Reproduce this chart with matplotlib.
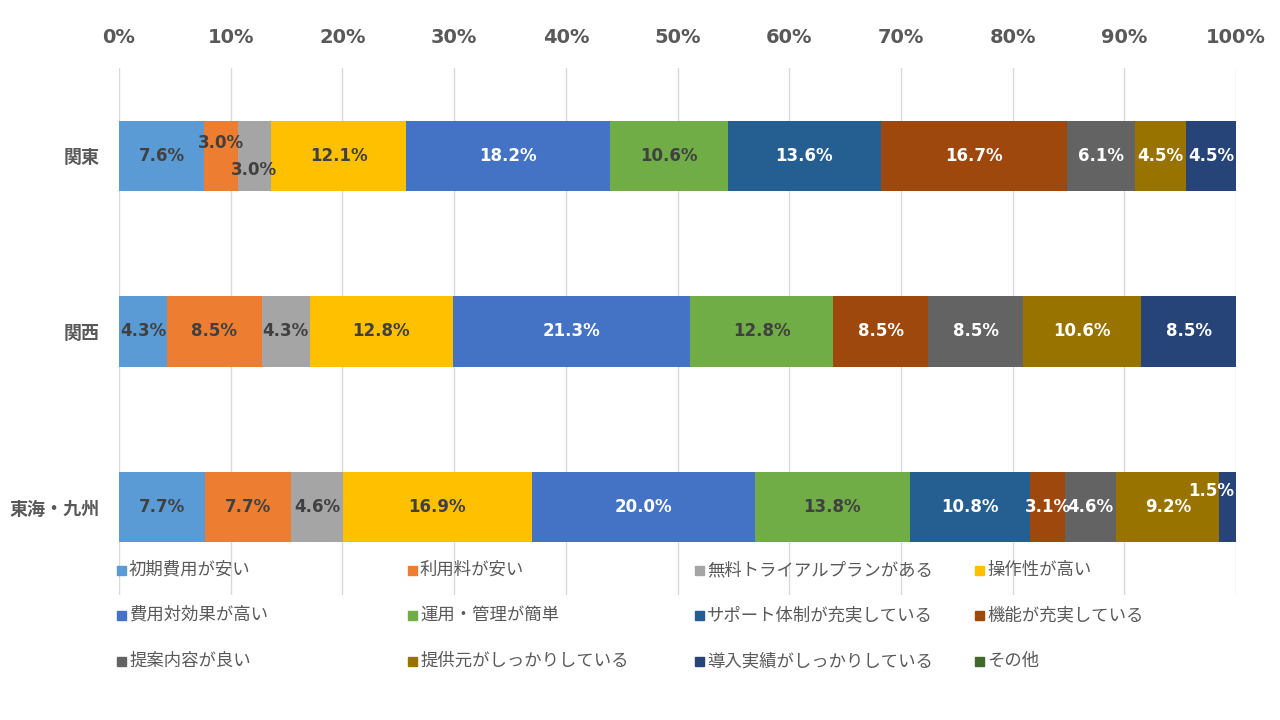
import matplotlib
matplotlib.use("Agg")
import matplotlib.pyplot as plt
from matplotlib.patches import Rectangle
import numpy as np

plt.rcParams['font.family'] = ['Noto Sans CJK JP', 'DejaVu Sans']

regions = ["関東", "関西", "東海・九州"]
reasons = ["初期費用が安い", "利用料が安い", "無料トライアルプランがある", "操作性が高い",
           "費用対効果が高い", "運用・管理が簡単", "サポート体制が充実している", "機能が充実している",
           "提案内容が良い", "提供元がしっかりしている", "導入実績がしっかりしている", "その他"]

kanto = [7.6, 3.0, 3.0, 12.1, 18.2, 10.6, 13.6, 16.7, 6.1, 4.5, 4.5, 0.0]
kansai = [4.3, 8.5, 4.3, 12.8, 21.3, 12.8, 0.0, 8.5, 8.5, 10.6, 8.5, 0.0]
tokai = [7.7, 7.7, 4.6, 16.9, 20.0, 13.8, 10.8, 3.1, 4.6, 9.2, 1.5, 0.0]

colors = ["#5B9BD5", "#ED7D31", "#A5A5A5", "#FFC000", "#4472C4", "#70AD47",
          "#255E91", "#9E480E", "#636363", "#997300", "#264478", "#43682B"]
# label colour per series: dark on light fills, white on dark fills
label_colors = ["#404040", "#404040", "#404040", "#404040", "white", "#404040",
                "white", "white", "white", "white", "white", "white"]

data = np.array([kanto, kansai, tokai])
shares = data / data.sum(axis=1, keepdims=True)

fig = plt.figure(figsize=(12.8, 7.2), dpi=100)
ax = fig.add_axes([0.093, 0.1736, 0.8727, 0.732])

y = np.arange(len(regions))
left = np.zeros(len(regions))
for j, name in enumerate(reasons):
    w = shares[:, j]
    ax.barh(y, w, left=left, height=0.4, color=colors[j], label=name, zorder=2)
    for i in range(len(regions)):
        if data[i, j] <= 0:
            continue
        xc = left[i] + w[i] / 2
        yc = y[i]
        # nudge labels that would collide in narrow segments
        if i == 0 and j == 1:
            yc -= 0.075
        elif i == 0 and j == 2:
            yc += 0.08
        elif i == 2 and j == 10:
            yc -= 0.09
            xc -= 0.015
        ax.text(xc, yc, f"{data[i, j]:.1f}%", ha="center", va="center",
                fontsize=12, fontweight="bold", color=label_colors[j],
                family="DejaVu Sans", zorder=3)
    left += w

ax.set_xlim(0, 1)
ax.set_ylim(2.5, -0.5)
ax.set_yticks(y)
ax.set_yticklabels(regions, fontsize=13, fontweight="bold", color="#595959")
ax.xaxis.tick_top()
ax.set_xticks(np.linspace(0, 1, 11))
ax.set_xticklabels([f"{v}%" for v in range(0, 101, 10)], fontsize=14,
                   fontweight="bold", color="#595959", family="DejaVu Sans")
ax.tick_params(axis="x", length=0, pad=15)
ax.tick_params(axis="y", length=0, pad=14)
ax.grid(axis="x", color="#D9D9D9", linewidth=1, zorder=0)
for s in ax.spines.values():
    s.set_visible(False)

# legend laid out row by row in four fixed columns, like the original
col_x = [117, 408, 695, 975]
row_y = [570, 615, 661]
W, H = 1280, 720
for k, name in enumerate(reasons):
    cx = col_x[k % 4]
    cy = row_y[k // 4]
    sq = 9
    fig.patches.append(Rectangle(((cx) / W, (H - cy - sq / 2) / H), sq / W, sq / H,
                                 transform=fig.transFigure, color=colors[k], zorder=5))
    fig.text((cx + 12) / W, (H - cy) / H, name, ha="left", va="center",
             fontsize=12.5, color="#595959", zorder=5)

fig.savefig("out.png", dpi=100)
